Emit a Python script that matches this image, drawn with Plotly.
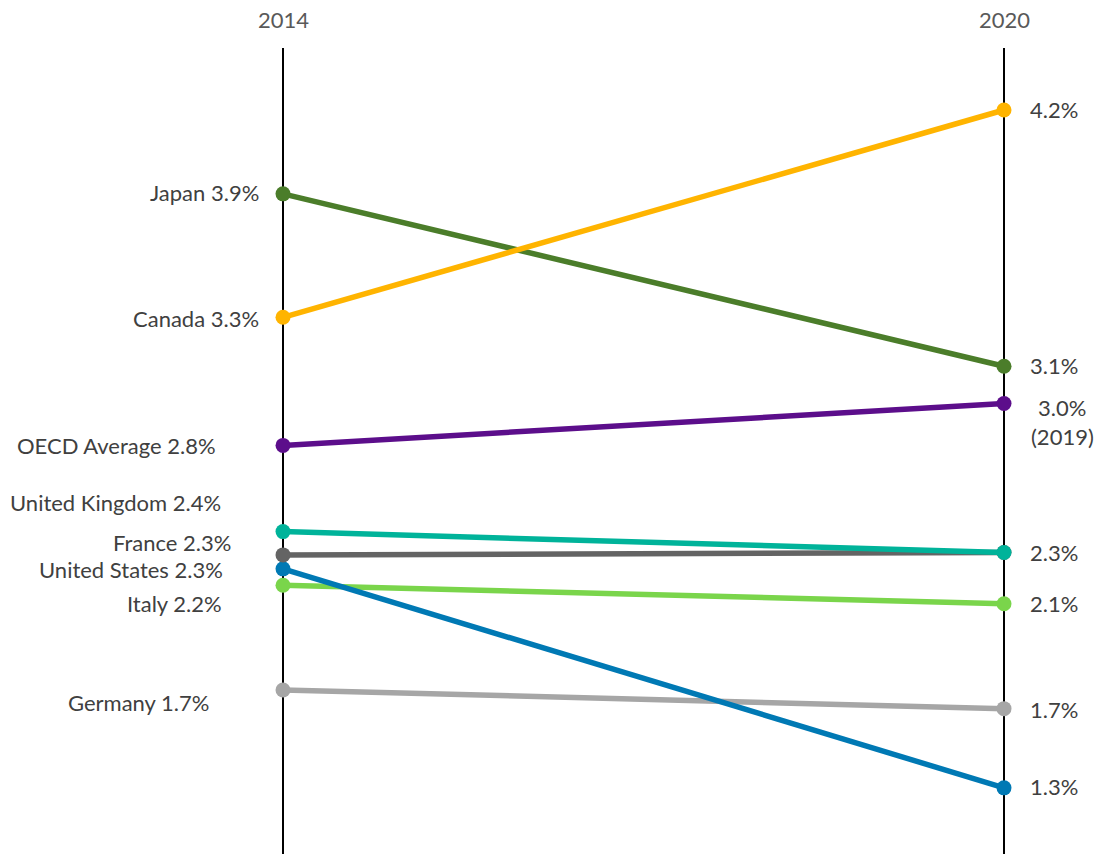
import plotly.graph_objects as go

years = [2014, 2020]
countries = ["Japan", "Canada", "OECD Average", "United Kingdom", "France",
             "United States", "Italy", "Germany"]
values_2014 = [3.84, 3.31, 2.76, 2.39, 2.29, 2.23, 2.16, 1.71]
values_2020 = [3.10, 4.20, 2.94, 2.30, 2.30, 1.29, 2.08, 1.63]
left_labels = ["Japan 3.9%", "Canada 3.3%", "OECD Average 2.8%", "United Kingdom 2.4%",
               "France 2.3%", "United States 2.3%", "Italy 2.2%", "Germany 1.7%"]
right_labels = ["3.1%", "4.2%", "3.0%", "2.3%", "", "1.3%", "2.1%", "1.7%"]
right_note = "(2019)"
colors = ["#4B7D2A", "#FFB400", "#5C0E8B", "#00B39A", "#646464",
          "#0079B4", "#7AD54B", "#A6A6A6"]

# label placement tweaks (pixels)
left_xend = [261, 261, 218, 223, 233, 225, 224, 211]
left_yshift = [1, -1, 0, 29, 12, -1, -18, -12]
right_yshift = [1, 1, -4, 0, 0, 1, 0, -1]

W, H = 1099, 854
FONT = "Lato"
FS = 22
TXT = "#404040"

fig = go.Figure()
order = [7, 6, 5, 4, 3, 2, 0, 1]
for i in order:
    fig.add_trace(go.Scatter(
        x=years, y=[values_2014[i], values_2020[i]], mode="lines+markers",
        line=dict(color=colors[i], width=5.5),
        marker=dict(color=colors[i], size=15),
        showlegend=False, hoverinfo="skip", cliponaxis=False))

# vertical axis lines
for yr in years:
    fig.add_shape(type="line", xref="x", yref="paper", x0=yr, x1=yr,
                  y0=0, y1=(H - 48) / H, line=dict(color="black", width=2),
                  layer="below")
    fig.add_annotation(x=yr, y=(H - 19) / H, xref="x", yref="paper",
                       text=str(yr), showarrow=False,
                       font=dict(family=FONT, size=FS, color="#595959"),
                       xanchor="center", yanchor="middle")

for i in range(len(countries)):
    fig.add_annotation(x=left_xend[i] / W, xref="paper", y=values_2014[i], yref="y",
                       yshift=left_yshift[i], text=left_labels[i], showarrow=False,
                       xanchor="right", yanchor="middle",
                       font=dict(family=FONT, size=FS, color=TXT))
    if right_labels[i]:
        if i == 2:
            fig.add_annotation(x=2020, y=values_2020[i], xshift=58, yshift=right_yshift[i],
                               text=right_labels[i], showarrow=False,
                               xanchor="center", yanchor="middle",
                               font=dict(family=FONT, size=FS, color=TXT))
            fig.add_annotation(x=2020, y=values_2020[i], xshift=58, yshift=-33,
                               text=right_note, showarrow=False,
                               xanchor="center", yanchor="middle",
                               font=dict(family=FONT, size=FS, color=TXT))
        else:
            fig.add_annotation(x=2020, y=values_2020[i], xshift=24, yshift=right_yshift[i],
                               text=right_labels[i], showarrow=False,
                               xanchor="left", yanchor="middle",
                               font=dict(family=FONT, size=FS, color=TXT))

px_per_year = (1004 - 283) / 6
x0 = 2014 - 283 / px_per_year
x1 = 2020 + (W - 1004) / px_per_year
px_per_unit = (785.5 - 110) / (4.2 - 1.3)
ytop = 4.2 + 110 / px_per_unit
ybot = 4.2 - (H - 110) / px_per_unit

fig.update_layout(
    width=W, height=H, margin=dict(l=0, r=0, t=0, b=0),
    paper_bgcolor="white", plot_bgcolor="white",
    xaxis=dict(range=[x0, x1], visible=False, fixedrange=True),
    yaxis=dict(range=[ybot, ytop], visible=False, fixedrange=True),
)
fig.write_html("out.html")
